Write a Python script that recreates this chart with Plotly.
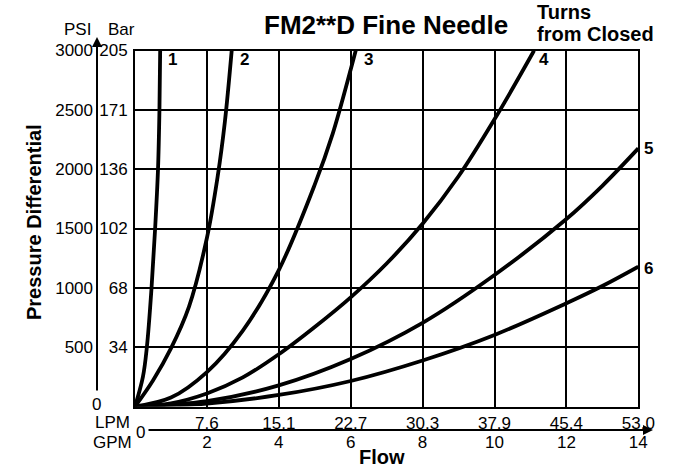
import plotly.graph_objects as go

W, H = 673, 470
FONT = "Liberation Sans, Arial, sans-serif"

# ---- data (GPM flow vs PSI pressure differential) ----
gpm_1 = [0, 0.22, 0.33, 0.46, 0.56, 0.64, 0.68, 0.70]
psi_1 = [0, 250, 500, 1000, 1500, 2000, 2500, 3000]
gpm_2 = [0, 0.5, 1.0, 1.5, 2.0, 2.3, 2.5, 2.69]
psi_2 = [0, 220, 490, 840, 1420, 1940, 2400, 3000]
gpm_3 = [0, 1.0, 2.0, 3.0, 4.0, 5.0, 5.5, 6.0, 6.14]
psi_3 = [0, 75, 290, 640, 1150, 1870, 2300, 2840, 3000]
gpm_4 = [0, 1, 2, 3, 4, 5, 6, 7, 8, 9, 10, 11, 11.1]
psi_4 = [0, 27, 110, 245, 440, 670, 920, 1205, 1540, 1940, 2420, 2945, 3000]
gpm_5 = [0, 2, 4, 6, 8, 10, 12, 13, 14]
psi_5 = [0, 45, 178, 400, 705, 1108, 1580, 1860, 2175]
gpm_6 = [0, 2, 4, 6, 8, 10, 12, 13, 14]
psi_6 = [0, 25, 97, 215, 388, 603, 870, 1015, 1178]

curve_names = ["1", "2", "3", "4", "5", "6"]
curves_x = [gpm_1, gpm_2, gpm_3, gpm_4, gpm_5, gpm_6]
curves_y = [psi_1, psi_2, psi_3, psi_4, psi_5, psi_6]

gpm_ticks = [2, 4, 6, 8, 10, 12, 14]
gpm_labels = ["2", "4", "6", "8", "10", "12", "14"]
lpm_labels = ["7.6", "15.1", "22.7", "30.3", "37.9", "45.4", "53.0"]
psi_ticks = [500, 1000, 1500, 2000, 2500, 3000]
psi_labels = ["500", "1000", "1500", "2000", "2500", "3000"]
bar_labels = ["34", "68", "102", "136", "171", "205"]

# ---- pixel helpers for layout ----
def px(x):
    return x / W

def py(y):
    return 1 - y / H

L, R, T, B = 135, 638.3, 50.5, 406.5

# curve label positions (pixels, left edge / vertical centre)
label_px = [166, 238, 362, 537, 642, 642]
label_py = [60, 60, 60, 60, 148, 268]

fig = go.Figure()
for name, xs, ys in zip(curve_names, curves_x, curves_y):
    fig.add_trace(go.Scatter(x=xs, y=ys, mode="lines", name=name,
                             line=dict(color="black", width=3.8, shape="spline", smoothing=1.0),
                             showlegend=False, hoverinfo="skip"))
# invisible trace to bind secondary axes
fig.add_trace(go.Scatter(x=[0, 14], y=[0, 3000], xaxis="x2", yaxis="y2", mode="lines",
                         line=dict(width=0), opacity=0, showlegend=False, hoverinfo="skip"))

tickfont = dict(family=FONT, size=17, color="black")

fig.update_layout(
    width=W, height=H,
    margin=dict(l=0, r=0, t=0, b=0),
    paper_bgcolor="white", plot_bgcolor="white",
    font=dict(family=FONT, color="black"),
    xaxis=dict(domain=[px(L), px(R)], range=[0, 14], tickvals=gpm_ticks, ticktext=lpm_labels,
               showgrid=True, gridcolor="black", gridwidth=1.5, zeroline=False,
               showline=True, linecolor="black", linewidth=2, mirror=True,
               ticks="", tickfont=tickfont, automargin=False, fixedrange=True),
    yaxis=dict(domain=[py(B), py(T)], range=[0, 3000], tickvals=psi_ticks, ticktext=bar_labels,
               showgrid=True, gridcolor="black", gridwidth=1.5, zeroline=False,
               showline=True, linecolor="black", linewidth=2, mirror=True,
               ticks="", ticklabelstandoff=2, tickfont=tickfont, automargin=False, fixedrange=True),
    xaxis2=dict(overlaying="x", anchor="free", position=py(430), side="bottom",
                range=[0, 14], tickvals=gpm_ticks, ticktext=gpm_labels,
                showgrid=False, zeroline=False, showline=False, ticks="",
                tickfont=tickfont, automargin=False, fixedrange=True),
    yaxis2=dict(overlaying="y", anchor="free", position=px(93), side="left",
                range=[0, 3000], tickvals=psi_ticks, ticktext=psi_labels,
                showgrid=False, zeroline=False, showline=False, ticks="",
                tickfont=tickfont, automargin=False, fixedrange=True),
)

ann = []
def text(t, x, y, size=17, bold=False, xanchor="center", textangle=0):
    ann.append(dict(text=f"<b>{t}</b>" if bold else t, x=px(x), y=py(y), xref="paper", yref="paper",
                    showarrow=False, xanchor=xanchor, yanchor="middle", textangle=textangle,
                    font=dict(family=FONT, size=size, color="black")))

text("FM2**D Fine Needle", 386, 25, size=26, bold=True)
text("Turns", 535, 12, size=20, bold=True, xanchor="left")
text("from Closed", 535, 34, size=20, bold=True, xanchor="left")
text("PSI", 77, 30)
text("Bar", 121, 30)
text("0", 97, 404)
text("LPM", 113, 422)
text("GPM", 112, 442)
text("0", 140, 432)
text("Flow", 382, 457, size=20, bold=True)
text("Pressure Differential", 34, 222, size=20, bold=True, textangle=-90)

for n, lx, ly in zip(curve_names, label_px, label_py):
    text(n, lx, ly, size=17, bold=True, xanchor="left")

# axis arrows
ann.append(dict(text="", x=px(97), y=py(37), xref="paper", yref="paper", showarrow=True,
                ax=0, ay=355, axref="pixel", ayref="pixel", arrowhead=2, arrowsize=1,
                arrowwidth=2, arrowcolor="black"))
ann.append(dict(text="", x=px(653), y=py(430), xref="paper", yref="paper", showarrow=True,
                ax=-506, ay=0, axref="pixel", ayref="pixel", arrowhead=2, arrowsize=1,
                arrowwidth=2, arrowcolor="black"))

fig.update_layout(annotations=ann)
fig.write_html("out.html", config={"displayModeBar": False},
               post_script="document.body.style.margin='0';document.body.style.overflow='hidden';")
